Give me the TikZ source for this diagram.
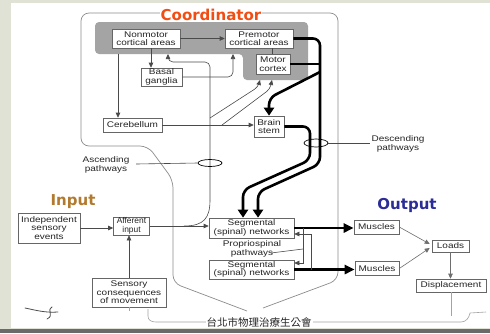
\documentclass[tikz,border=0pt]{standalone}
\usepackage{fontspec}
\setmainfont{Liberation Sans}
\newfontfamily\labfont[FakeStretch=1.22]{Liberation Sans}
\newfontfamily\headfont{DejaVu Sans}
\newfontfamily\cjkfont{Noto Sans CJK TC}
\usetikzlibrary{arrows.meta,shapes.geometric,calc}

\definecolor{sidebg}{HTML}{DFE2D5}
\definecolor{bottombar}{HTML}{6A6A6A}
\definecolor{cortexfill}{HTML}{A4A4A4}
\definecolor{boxedge}{HTML}{666666}
\definecolor{ink}{HTML}{242424}
\definecolor{wire}{HTML}{4A4A4A}
\definecolor{framegray}{HTML}{8C8C8C}
\definecolor{coordred}{HTML}{F24D13}
\definecolor{inputbrown}{HTML}{B27A2E}
\definecolor{outputblue}{HTML}{2B2C97}

\tikzset{
  labtext/.style={font=\labfont\fontsize{8.2}{8.5}\selectfont, text=ink, align=center},
  box/.style={labtext, draw=boxedge, fill=white, line width=0.6pt, inner sep=0pt},
  lbl/.style={labtext, inner sep=1.5pt},
  fine/.style={draw=wire, line width=0.6pt},
  farrow/.style={fine, -{Triangle[length=5pt,width=4.5pt]}},
  garrow/.style={draw=wire!80, line width=0.6pt, -{Triangle[length=5pt,width=4.5pt]}},
  heavy/.style={draw=black, line width=2.6pt, rounded corners=7pt},
  heavyarrow/.style={heavy, -{Triangle[length=8pt,width=10pt]}},
  ring/.style={draw=black, line width=0.7pt, ellipse, inner sep=0pt},
  headline/.style={font=\headfont\bfseries\fontsize{15}{16}\selectfont, inner sep=1pt}
}

\begin{document}
\begin{tikzpicture}[x=1pt,y=-1pt]
% page background, margins and bottom bar
\fill[sidebg] (0,0) rectangle (490,333);
\fill[white] (11,3) rectangle (490,328);
\fill[bottombar] (0,328.5) rectangle (490,333);
\useasboundingbox (0,0) rectangle (490,333);

% outer frame of the coordinator
\draw[framegray, line width=0.7pt, rounded corners=8pt]
  (247,311) -- (173,283) -- (173,180) -- (148,146) -- (81,146) -- (81,13)
  -- (338,13) -- (338,280) -- (263,308);

% cortex region
\fill[cortexfill, rounded corners=4pt]
  (95,22) -- (308,22) -- (308,80) -- (243,80) -- (243,54) -- (95,54) -- cycle;
\coordinate (cxCb) at (118,54);
\coordinate (cxNM) at (168,54);
\coordinate (cxPM) at (233,54);
\coordinate (cxM1) at (260,80);
\coordinate (cxM2) at (272,80);

% boxes
\node[box, minimum width=68, minimum height=19] (nonmotor) at (146,38.5) {Nonmotor\\cortical areas};
\node[box, minimum width=68, minimum height=19] (premotor) at (259,38.5) {Premotor\\cortical areas};
\node[box, minimum width=34, minimum height=20] (motor) at (273,64) {Motor\\cortex};
\node[box, minimum width=41, minimum height=18] (basal) at (161.5,77) {Basal\\ganglia};
\node[box, minimum width=59, minimum height=14] (cereb) at (132.5,125) {Cerebellum};
\node[box, minimum width=30, minimum height=21] (brain) at (269,126.5) {Brain\\stem};
\node[box, minimum width=85, minimum height=20] (seg1) at (251.5,228) {Segmental\\(spinal) networks};
\node[box, minimum width=85, minimum height=19] (seg2) at (251.5,269.5) {Segmental\\(spinal) networks};
\node[box, minimum width=45, minimum height=14] (musc1) at (376.5,227) {Muscles};
\node[box, minimum width=44, minimum height=14] (musc2) at (377,268.5) {Muscles};
\node[box, minimum width=37, minimum height=12] (loads) at (450.5,246) {Loads};
\node[box, minimum width=70, minimum height=13] (displ) at (451,285.5) {Displacement};
\node[box, minimum width=62, minimum height=30] (indep) at (49,228) {Independent\\sensory\\events};
\node[box, minimum width=36, minimum height=18, font=\fontsize{8.4}{8.8}\selectfont] (aff) at (131.5,226) {Afferent\\input};
\node[box, minimum width=74, minimum height=29] (sens) at (129,292.5) {Sensory\\consequences\\of movement};

% headings
\node[headline, text=coordred, fill=white] (coordtitle) at (211,15) {Coordinator};
\node[headline, text=inputbrown] (inputtitle) at (73,202) {Input};
\node[headline, text=outputblue] (outputtitle) at (407,205) {Output};

% cortical and subcortical loops
\draw[farrow] (nonmotor.east) -- (premotor.west);
\coordinate (nbx) at (151,0);
\draw[farrow] (nonmotor.south -| nbx) -- (basal.north -| nbx);
\draw[farrow, rounded corners=5pt] (basal.east) -- (cxPM |- basal.east) -- (cxPM);
\coordinate (pmx) at (272,0);
\draw[fine] (premotor.south -| pmx) -- (motor.north -| pmx);
\draw[farrow] (cxCb) -- (cxCb |- cereb.north);
\draw[farrow] (cereb.east) -- (brain.west |- cereb.east);

% input side
\draw[farrow] (indep.east) -- (aff.west |- indep.east);
\draw[farrow] (sens.north) -- (sens.north |- aff.south);
\draw[farrow] (aff.east) -- (seg1.west |- aff.east);

% ascending pathways
\coordinate (asc0) at (184,226);
\coordinate (asc1) at (210,200);
\coordinate (asc2) at (210,62);
\coordinate (asc3) at (168,62);
\draw[fine] (asc0) .. controls (204,226) and (210,218) .. (asc1);
\draw[farrow, rounded corners=5pt] (asc1) -- (asc2) -- (asc3) -- (cxNM);
\coordinate (mA) at (210,118);
\coordinate (mB) at (222,125);
\draw[farrow, rounded corners=4pt] (mA) -- (258,87) -- (cxM1);
\draw[farrow, rounded corners=4pt] (mB) -- (270,89) -- (cxM2);
\node[ring, minimum width=24, minimum height=7] (ascring) at (210,163) {};
\node[lbl] (asclab) at (106,165) {Ascending\\pathways};
\draw[fine] ($(asclab.east)+(5,-1)$) -- (ascring.west);

% descending pathways
\coordinate (dR1) at (320,38.5);
\coordinate (dR2) at (320,164);
\coordinate (dR3) at (258,192);
\draw[heavyarrow] (premotor.east) -- (dR1) -- (dR2) -- (dR3) -- (dR3 |- seg1.north);
\draw[heavy] (motor.east) -- (dR1 |- motor.east);
\coordinate (bs1) at (320,72);
\coordinate (bs2) at (269,98);
\draw[heavyarrow] (bs1) -- (bs2) -- (brain.north);
\coordinate (dL1) at (310,126.5);
\coordinate (dL2) at (310,160);
\coordinate (dL3) at (243,190);
\draw[heavyarrow] (brain.east) -- (dL1) -- (dL2) -- (dL3) -- (dL3 |- seg1.north);
\node[ring, minimum width=24, minimum height=8] (descring) at (316,143) {};
\node[lbl] (desclab) at (398,144) {Descending\\pathways};
\draw[fine] (descring.east) -- ($(desclab.west)+(0,-1)$);

% spinal output
\draw[heavyarrow, rounded corners=0pt, -{Triangle[length=10pt,width=9pt]}] (seg1.east) -- (musc1.west |- seg1.east);
\draw[heavyarrow, rounded corners=0pt, -{Triangle[length=10pt,width=9pt]}] (seg2.east) -- (musc2.west |- seg2.east);

% propriospinal pathways
\coordinate (pA) at (303,228);
\coordinate (pB) at (303,263);
\coordinate (pC) at (311,269.5);
\coordinate (pD) at (311,234);
\draw[farrow] (pA) -- (pB) -- (seg2.east |- pB);
\draw[farrow] (pC) -- (pD) -- (seg1.east |- pD);
\node[lbl] (proplab) at (252,249) {Propriospinal\\pathways};
\draw[fine] ($(proplab.east)+(-12,4)$) -- ($(pB)+(0,-14)$);

% mechanics
\draw[garrow] (musc1.east) -- ($(loads.west)+(-2,-2)$);
\draw[garrow] (musc2.east) -- ($(loads.west)+(-2,2)$);
\draw[garrow] (loads.south) -- (loads.south |- displ.north);

% feedback brace along the bottom
\draw[framegray!80, line width=0.6pt] (displ.south) -- ++(0,24);
\coordinate (brL) at (148,309);
\coordinate (brR) at (486,312);
\draw[framegray!80, line width=0.6pt] (brL) -- (148,316) .. controls (148,320) and (151,322) .. (156,322)
  -- (461,322) .. controls (466,322) and (469,318) .. (470,313) -- (brR);
\draw[framegray!80, line width=0.6pt] (sens.south) -- ++(0,4);
\node[fill=white, inner sep=1pt, text=black!85, font=\cjkfont\fontsize{10.5}{11}\selectfont] (club) at (259,322) {台北市物理治療生公會};

% pen mark
\draw[black!70, line width=0.8pt, line cap=round] (25,308) .. controls (35,310) and (45,313) .. (58,312);
\draw[black!70, line width=0.8pt, line cap=round] (52,307) .. controls (46,311) and (55,315) .. (47,319);
\end{tikzpicture}
\end{document}
